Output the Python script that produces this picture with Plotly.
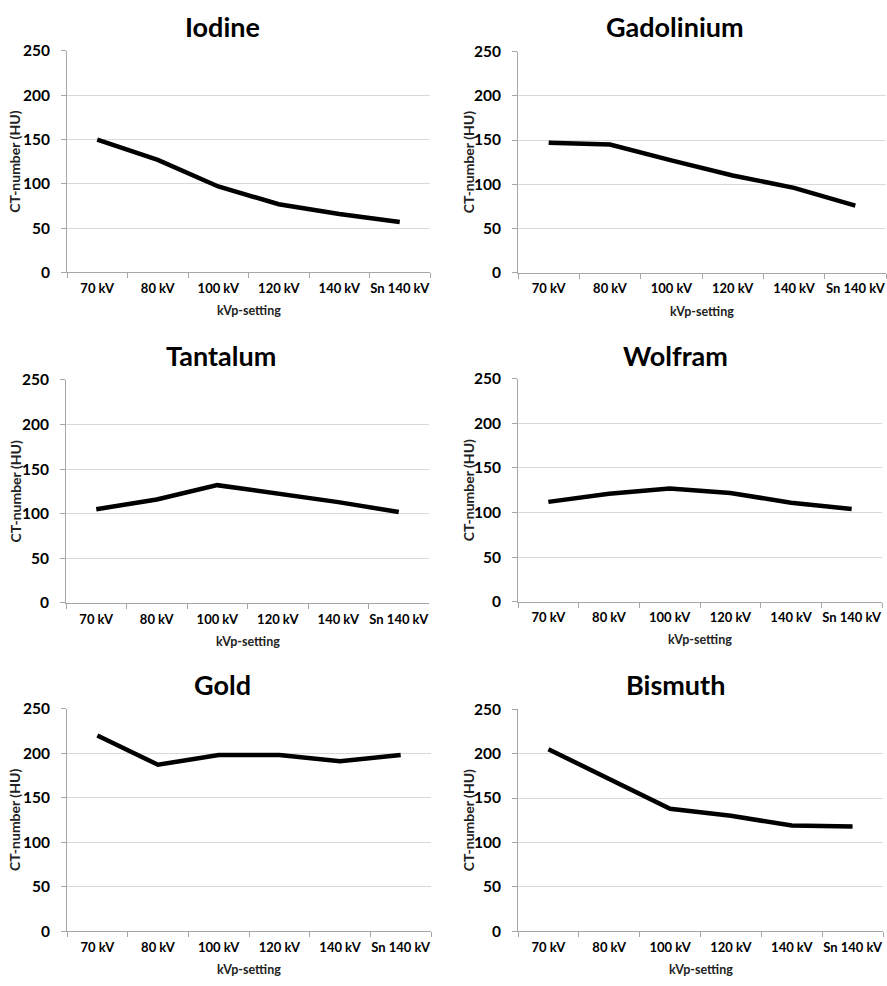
import plotly.graph_objects as go

W, H = 887, 986

categories = ["70 kV", "80 kV", "100 kV", "120 kV", "140 kV", "Sn 140 kV"]

iodine = [150, 127, 97, 77, 66, 57]
gadolinium = [147, 145, 127, 110, 96, 76]
tantalum = [105, 116, 132, 123, 113, 102]
wolfram = [112, 121, 127, 122, 111, 104]
gold = [220, 187, 198, 198, 191, 198]
bismuth = [205, 172, 138, 130, 119, 118]

titles = ["Iodine", "Gadolinium", "Tantalum", "Wolfram", "Gold", "Bismuth"]
series = [iodine, gadolinium, tantalum, wolfram, gold, bismuth]

y_ticks = [0, 50, 100, 150, 200, 250]
x_title = "kVp-setting"
y_title = "CT-number (HU)"

# plot-area boxes in pixels: (left, right, top, bottom)
boxes = [
    (67, 430, 41.7, 267.3),
    (518, 886, 42.3, 267.7),
    (66, 429, 376.7, 604),
    (518, 882, 375.7, 602.7),
    (67, 431, 711.7, 938.3),
    (518, 883, 712.3, 938.3),
]
title_pos = [(222, 17), (675, 17), (221, 352), (675, 352), (222, 687), (675, 687)]
ytitle_x = [15, 468, 15, 468, 15, 468]

FONT = "Lato, 'Open Sans', sans-serif"

fig = go.Figure()
annotations = []
layout = {}
for i, (vals, box) in enumerate(zip(series, boxes)):
    n = i + 1
    xa = "x" if n == 1 else f"x{n}"
    ya = "y" if n == 1 else f"y{n}"
    fig.add_trace(go.Scatter(
        x=categories, y=vals, mode="lines",
        line=dict(color="black", width=4.5),
        xaxis=xa, yaxis=ya, showlegend=False, hoverinfo="x+y",
    ))
    l, r, t, b = box
    layout[f"xaxis{n}"] = dict(
        domain=[l / W, r / W], anchor=ya, type="category",
        range=[-0.5, 5.5], tickson="boundaries", tickangle=0,
        ticks="outside", ticklen=5, tickcolor="#a6a6a6", tickwidth=1,
        ticklabelstandoff=4,
        showline=True, linecolor="#a6a6a6", linewidth=1,
        showgrid=False, zeroline=False,
        tickfont=dict(family=FONT, size=13, color="black", weight="bold"),
        fixedrange=True,
    )
    layout[f"yaxis{n}"] = dict(
        domain=[1 - b / H, 1 - t / H], anchor=xa,
        range=[0, 250], tickvals=y_ticks,
        ticks="outside", ticklen=5, tickcolor="#a6a6a6", tickwidth=1,
        ticklabelstandoff=8,
        showline=True, linecolor="#a6a6a6", linewidth=1,
        showgrid=True, gridcolor="#d9d9d9", gridwidth=1, zeroline=False,
        tickfont=dict(family=FONT, size=15.5, color="black", weight="bold"),
        fixedrange=True,
    )
    tx, ty = title_pos[i]
    annotations.append(dict(
        text=titles[i], x=tx / W, y=1 - ty / H, xref="paper", yref="paper",
        xanchor="center", yanchor="middle", showarrow=False,
        font=dict(family=FONT, size=27, color="black", weight="bold"),
    ))
    annotations.append(dict(
        text=x_title, x=((l + r) / 2) / W, y=1 - (b + 39) / H,
        xref="paper", yref="paper", xanchor="center", yanchor="middle",
        showarrow=False,
        font=dict(family=FONT, size=12.5, color="#222222", weight="bold"),
    ))
    annotations.append(dict(
        text=y_title, x=ytitle_x[i] / W, y=1 - ((t + b) / 2) / H,
        xref="paper", yref="paper", xanchor="center", yanchor="middle",
        showarrow=False, textangle=-90,
        font=dict(family=FONT, size=14, color="#222222", weight="bold"),
    ))

fig.update_layout(
    width=W, height=H,
    margin=dict(l=0, r=0, t=0, b=0),
    paper_bgcolor="white", plot_bgcolor="white",
    annotations=annotations,
    **layout,
)

fig.write_html("out.html", config={"displayModeBar": False})
